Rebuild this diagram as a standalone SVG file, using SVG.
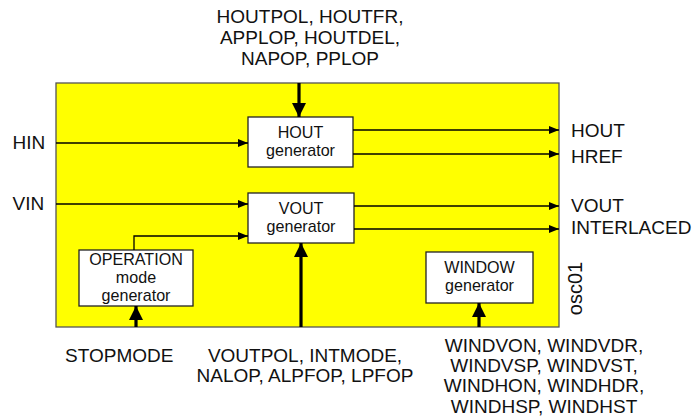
<svg xmlns="http://www.w3.org/2000/svg" width="693" height="420" viewBox="0 0 693 420">
<style>
text{font-family:"Liberation Sans",Arial,sans-serif;fill:#111}
.lbl{font-size:19px}
.bx{font-size:16.1px;text-anchor:middle}
.box{fill:#fff;stroke:#222;stroke-width:1.3}
.thin{stroke:#000;stroke-width:1.3;fill:none}
.thick{stroke:#000;stroke-width:3.2;fill:none}
</style>
<defs>
<marker id="ah" viewBox="0 0 10 8" refX="10" refY="4" markerWidth="10" markerHeight="8" markerUnits="userSpaceOnUse" orient="auto"><path d="M0,0L10,4L0,8Z" fill="#000"/></marker>
<marker id="ahb" viewBox="0 0 14 14" refX="14" refY="7" markerWidth="14" markerHeight="14" markerUnits="userSpaceOnUse" orient="auto"><path d="M0,0L14,7L0,14Z" fill="#000"/></marker>
</defs>
<g id="frame">
<rect x="56" y="83" width="503" height="244" fill="#ffff00" stroke="#555" stroke-width="1.3"/>
<text x="582" y="288.5" style="font-size:20px" text-anchor="middle" transform="rotate(-90 582 288.5)">osc01</text>
</g>
<g id="hout">
<rect class="box" x="248" y="117" width="105" height="50"/>
<text class="bx" x="300.5" y="138">HOUT</text>
<text class="bx" x="300.5" y="156">generator</text>
</g>
<g id="vout">
<rect class="box" x="248" y="193" width="106" height="50"/>
<text class="bx" x="301" y="214">VOUT</text>
<text class="bx" x="301" y="232">generator</text>
</g>
<g id="operation">
<rect class="box" x="79" y="250" width="114" height="56"/>
<text class="bx" x="136" y="264.5">OPERATION</text>
<text class="bx" x="136" y="282.5">mode</text>
<text class="bx" x="136" y="300.5">generator</text>
</g>
<g id="window">
<rect class="box" x="426" y="252" width="107" height="51"/>
<text class="bx" x="479.5" y="272.5">WINDOW</text>
<text class="bx" x="479.5" y="290.5">generator</text>
</g>
<g id="connectors">
<path class="thin" d="M56,143H248" marker-end="url(#ah)"/>
<path class="thin" d="M56,204H248" marker-end="url(#ah)"/>
<path class="thin" d="M134,250V236H248" marker-end="url(#ah)"/>
<path class="thin" d="M353,130H559" marker-end="url(#ah)"/>
<path class="thin" d="M353,154H559" marker-end="url(#ah)"/>
<path class="thin" d="M354,206H559" marker-end="url(#ah)"/>
<path class="thin" d="M354,229H559" marker-end="url(#ah)"/>
<path class="thick" d="M299,83V117" marker-end="url(#ahb)"/>
<path class="thick" d="M301,327V243" marker-end="url(#ahb)"/>
<path class="thick" d="M136,327V306" marker-end="url(#ahb)"/>
<path class="thick" d="M479,327V303" marker-end="url(#ahb)"/>
</g>
<g id="labels" class="lbl">
<text class="lbl" x="12.5" y="149">HIN</text>
<text class="lbl" x="12.5" y="210">VIN</text>
<text class="lbl" x="571" y="137">HOUT</text>
<text class="lbl" x="571" y="163">HREF</text>
<text class="lbl" x="571" y="212">VOUT</text>
<text class="lbl" x="571" y="234">INTERLACED</text>
<text class="lbl" text-anchor="middle" x="310" y="23">HOUTPOL, HOUTFR,</text>
<text class="lbl" text-anchor="middle" x="310" y="44">APPLOP, HOUTDEL,</text>
<text class="lbl" text-anchor="middle" x="310" y="65">NAPOP, PPLOP</text>
<text class="lbl" x="65" y="362">STOPMODE</text>
<text class="lbl" text-anchor="middle" x="305" y="362">VOUTPOL, INTMODE,</text>
<text class="lbl" text-anchor="middle" x="305" y="382">NALOP, ALPFOP, LPFOP</text>
<text class="lbl" text-anchor="middle" x="544" y="352">WINDVON, WINDVDR,</text>
<text class="lbl" text-anchor="middle" x="544" y="372">WINDVSP, WINDVST,</text>
<text class="lbl" text-anchor="middle" x="544" y="392">WINDHON, WINDHDR,</text>
<text class="lbl" text-anchor="middle" x="544" y="413">WINDHSP, WINDHST</text>
</g>
</svg>
